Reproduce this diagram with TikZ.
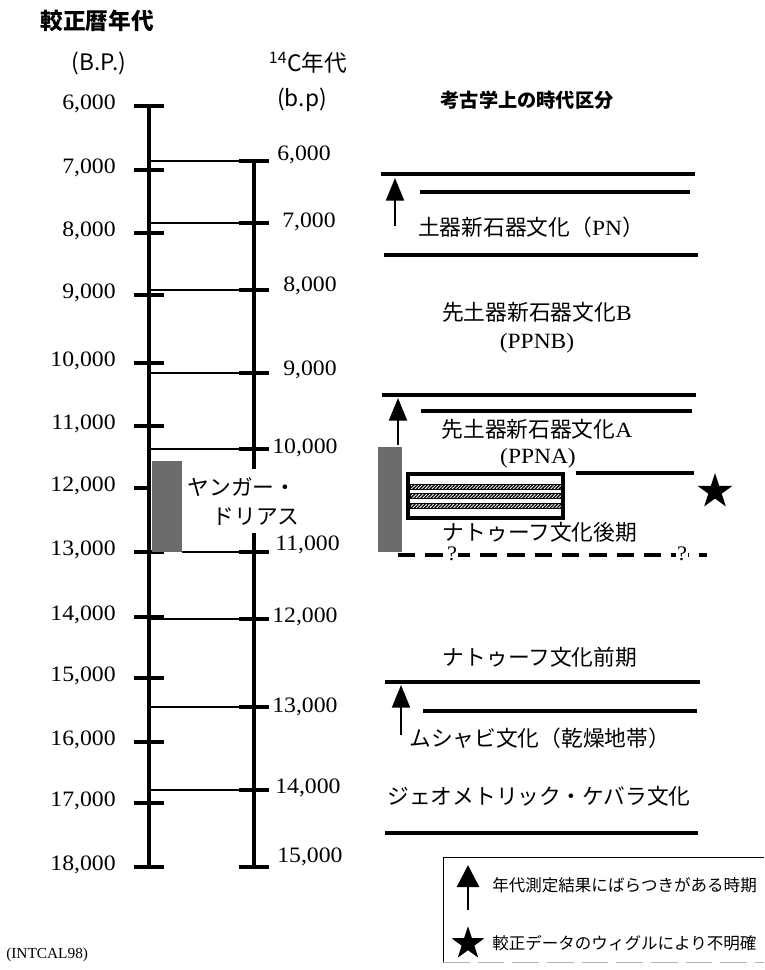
\documentclass[tikz,border=0pt]{standalone}
\usepackage{fontspec}
\setmainfont{Liberation Serif}
\newfontfamily\cjk{Noto Sans CJK JP}
\newfontfamily\numf[FakeStretch=1.08]{Liberation Serif}
\usetikzlibrary{arrows.meta,shapes.geometric,patterns.meta}
\tikzset{
  axisline/.style={line width=2.5pt},
  tickline/.style={line width=3pt},
  thinline/.style={line width=0.8pt},
  eraline/.style={line width=2.3pt},
  num/.style={font=\numf\fontsize{16.5}{16.5}\selectfont, inner sep=0pt},
  jp/.style={font=\cjk\fontsize{16.3}{19}\selectfont, inner sep=0pt},
  heading/.style={font=\cjk\bfseries\fontsize{17}{20}\selectfont, inner sep=0pt},
  unit/.style={font=\cjk\fontsize{17}{20}\selectfont, inner sep=0pt},
  legtext/.style={font=\cjk\fontsize{12.4}{15}\selectfont, inner sep=0pt, anchor=west},
  uparrow/.style={line width=1.6pt, -{Triangle[width=13.5pt,length=17pt]}},
  legarrow/.style={line width=1.9pt, -{Triangle[width=16.5pt,length=16.5pt]}},
  greybar/.style={fill=black!58},
  bigstar/.style={star, star points=5, star point ratio=2.6, fill=black, inner sep=0pt},
  qmark/.style={font=\numf\fontsize{15.5}{15.5}\selectfont, fill=white, inner xsep=0.8pt, inner ysep=0pt, text height=7.5pt, text depth=0pt},
}
\newcommand{\lat}[1]{{\numf #1}}
\begin{document}
\begin{tikzpicture}[x=0.75pt,y=-0.75pt]
\useasboundingbox (0,0) rectangle (764,970);

% ---------- headings ----------
\node[heading] (hcal) at (97,21) {較正暦年代};
\node[unit] (hbp) at (99,63) {(B.P.)};
\node[unit] (hc14) at (308,63) {\textsuperscript{14}C年代};
\node[unit] (hbp2) at (302,100) {(b.p)};
\node[font=\cjk\bfseries\fontsize{14.4}{17}\selectfont, inner sep=0pt] (harch) at (527,100) {考古学上の時代区分};

% ---------- calibrated axis ----------
\draw[axisline] (149,105) -- (149,867);
\foreach \y in {106,170,233,295,363,426,552,617,678,742,803,867}
  \draw[tickline] (134,\y) -- (164,\y);
\draw[tickline] (134,488) -- (149,488);
\foreach \y/\t in {106/{6,000},170/{7,000},233/{8,000},295/{9,000},363/{10,000},426/{11,000},488/{12,000},552/{13,000},617/{14,000},678/{15,000},742/{16,000},803/{17,000},867/{18,000}}
  \node[num, anchor=east] at (116,\y-2) {\t};

% ---------- 14C axis ----------
\draw[axisline] (254,161) -- (254,469);
\draw[axisline] (254,533) -- (254,867);
\foreach \y in {161,223,290,373,449,552,619,707,790,867}
  \draw[tickline] (239,\y) -- (269,\y);
\foreach \y in {161,223,290,373,449,619,707,790}
  \draw[thinline] (149,\y) -- (254,\y);
\draw[thinline] (182,552) -- (254,552);
\foreach \x/\y/\t in {277/155/{6,000},282/222/{7,000},283/286/{8,000},283/370/{9,000},272/448/{10,000},275/545/{11,000},272/617/{12,000},272/707/{13,000},275/788/{14,000},277/857/{15,000}}
  \node[num, anchor=west] at (\x,\y) {\t};

% Younger Dryas
\fill[greybar] (152,461) rectangle (182,552);
\node[jp] (yd1) at (242,487) {ヤンガー・};
\node[jp] (yd2) at (256,517) {ドリアス};

% ---------- archaeological periods ----------
\draw[eraline] (381,174) -- (695,174);
\draw[eraline] (420,192) -- (690,192);
\coordinate (a1b) at (395,226); \coordinate (a1t) at (395,178);
\draw[uparrow] (a1b) -- (a1t);
\node[jp] (pn) at (531,227) {土器新石器文化（\lat{PN}）};
\draw[eraline] (384,255) -- (698,255);

\node[jp] (ppnb1) at (537,312) {先土器新石器文化\lat{B}};
\node[jp] (ppnb2) at (537,343) {\lat{(PPNB)}};

\draw[eraline] (382,395) -- (696,395);
\draw[eraline] (421,411) -- (692,411);
\coordinate (a2b) at (398,445); \coordinate (a2t) at (398,398);
\draw[uparrow] (a2b) -- (a2t);
\node[jp] (ppna1) at (537,429) {先土器新石器文化\lat{A}};
\node[jp] (ppna2) at (538,458) {\lat{(PPNA)}};

\fill[greybar] (378,447) rectangle (402,552);
\draw[line width=2.4pt] (408,474) rectangle (563,518);
\foreach \y in {486.7,495.7,505.7}
  \draw[line width=0.5pt, pattern={Lines[angle=45,distance=1.8pt,line width=1pt]}] (410,\y-2.4) rectangle (561,\y+2.4);
\draw[eraline] (576,473) -- (694,473);
\node[bigstar, minimum size=27.6pt] (star1) at (715,491.5) {};
\node[jp] (natl) at (540,532) {ナトゥーフ文化後期};
\draw[eraline, dash pattern=on 13pt off 7.5pt] (398,555) -- (707,555);
\node[qmark] (q1) at (452,555) {?};
\node[qmark] (q2) at (682,555) {?};

\node[jp] (nate) at (540,657) {ナトゥーフ文化前期};
\draw[eraline] (385,682) -- (700,682);
\draw[eraline] (423,711) -- (697,711);
\coordinate (a3b) at (401,735); \coordinate (a3t) at (401,685);
\draw[uparrow] (a3b) -- (a3t);
\node[jp, anchor=west] (mush) at (409,738) {ムシャビ文化（乾燥地帯）};
\node[jp] (geo) at (539,796) {ジェオメトリック・ケバラ文化};
\draw[eraline] (385,833) -- (698,833);

% ---------- legend ----------
\draw[line width=0.6pt] (764,857) -- (443,857) -- (443,962);
\draw[line width=0.6pt, gray!60, dash pattern=on 20pt off 6pt] (443,962) -- (764,962);
\coordinate (la_b) at (468,910); \coordinate (la_t) at (468,865);
\draw[legarrow] (la_b) -- (la_t);
\node[legtext] (l1) at (492,885) {年代測定結果にばらつきがある時期};
\node[bigstar, minimum size=26pt] (star2) at (468,943.6) {};
\node[legtext] (l2) at (492,943) {較正データのウィグルにより不明確};

% ---------- source ----------
\node[font=\fontsize{11.5}{13}\selectfont, inner sep=0pt, anchor=west] (src) at (6,955) {(INTCAL98)};
\end{tikzpicture}
\end{document}
